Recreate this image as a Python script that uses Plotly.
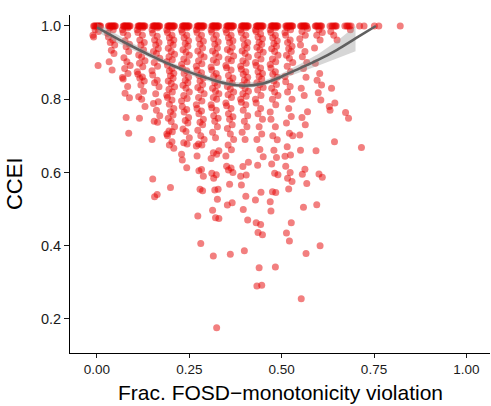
import plotly.graph_objects as go

# FOSD violation levels (columns) and CCEI values read per column
fosd_levels = [0.00, 0.04, 0.08, 0.12, 0.16, 0.20, 0.24, 0.28, 0.32, 0.36,
               0.40, 0.44, 0.48, 0.52, 0.56, 0.60, 0.64, 0.68, 0.72, 0.76, 0.83]

c00 = [1.0]*9 + [0.990, 0.985, 0.975, 0.970, 0.892]
c04 = [1.0]*9 + [0.995, 0.990, 0.980, 0.970, 0.962, 0.955, 0.948, 0.934, 0.925,
                 0.902, 0.880]
c08 = [1.0]*10 + [0.995, 0.990, 0.982, 0.975, 0.960, 0.950, 0.943, 0.930, 0.913,
                  0.902, 0.892, 0.884, 0.870, 0.859, 0.855, 0.835, 0.816, 0.804,
                  0.750, 0.707]
c12 = [1.0]*10 + [0.995, 0.990, 0.982, 0.975, 0.962, 0.955, 0.948, 0.935, 0.921,
                  0.915, 0.905, 0.898, 0.889, 0.875, 0.868, 0.861, 0.857, 0.850,
                  0.839, 0.822, 0.807, 0.800, 0.780, 0.748]
c16 = [1.0]*10 + [0.995, 0.990, 0.980, 0.972, 0.962, 0.955, 0.948, 0.938, 0.930,
                  0.925, 0.912, 0.900, 0.890, 0.878, 0.866, 0.852, 0.845, 0.834,
                  0.815, 0.793, 0.788, 0.770, 0.755, 0.740, 0.737, 0.690, 0.582,
                  0.540, 0.534]
c20 = [1.0]*10 + [0.995, 0.989, 0.982, 0.975, 0.968, 0.962, 0.955, 0.948, 0.939,
                  0.930, 0.923, 0.916, 0.908, 0.902, 0.893, 0.884, 0.877, 0.871,
                  0.864, 0.857, 0.850, 0.843, 0.834, 0.827, 0.820, 0.811, 0.805,
                  0.798, 0.786, 0.775, 0.766, 0.757, 0.748, 0.739, 0.725, 0.713,
                  0.711, 0.705, 0.700, 0.684, 0.675, 0.666, 0.559]
c24 = [1.0]*10 + [0.995, 0.990, 0.983, 0.975, 0.968, 0.960, 0.952, 0.945, 0.935,
                  0.928, 0.920, 0.910, 0.902, 0.895, 0.885, 0.878, 0.870, 0.860,
                  0.852, 0.845, 0.838, 0.830, 0.820, 0.810, 0.802, 0.795, 0.780,
                  0.772, 0.765, 0.750, 0.742, 0.735, 0.719, 0.712, 0.695, 0.681,
                  0.678, 0.650, 0.634, 0.613]
c28 = [1.0]*10 + [0.995, 0.990, 0.982, 0.975, 0.965, 0.958, 0.950, 0.940, 0.932,
                  0.922, 0.915, 0.905, 0.897, 0.890, 0.880, 0.872, 0.865, 0.858,
                  0.850, 0.840, 0.832, 0.825, 0.815, 0.805, 0.795, 0.785, 0.775,
                  0.768, 0.760, 0.745, 0.737, 0.730, 0.715, 0.700, 0.690, 0.678,
                  0.675, 0.672, 0.645, 0.608, 0.605, 0.590, 0.554, 0.550, 0.481,
                  0.406]
c32 = [1.0]*10 + [0.995, 0.990, 0.983, 0.975, 0.965, 0.957, 0.950, 0.940, 0.932,
                  0.925, 0.915, 0.907, 0.900, 0.888, 0.880, 0.870, 0.863, 0.858,
                  0.845, 0.838, 0.830, 0.822, 0.815, 0.805, 0.800, 0.785, 0.777,
                  0.770, 0.755, 0.748, 0.740, 0.725, 0.710, 0.695, 0.659, 0.654,
                  0.650, 0.638, 0.598, 0.594, 0.584, 0.554, 0.552, 0.527, 0.497,
                  0.476, 0.474, 0.372, 0.176]
c36 = [1.0]*10 + [0.995, 0.990, 0.982, 0.975, 0.968, 0.960, 0.955, 0.942, 0.936,
                  0.930, 0.918, 0.910, 0.905, 0.892, 0.886, 0.880, 0.865, 0.858,
                  0.850, 0.843, 0.835, 0.828, 0.820, 0.812, 0.805, 0.790, 0.782,
                  0.775, 0.760, 0.752, 0.745, 0.730, 0.720, 0.705, 0.690, 0.675,
                  0.662, 0.645, 0.617, 0.612, 0.607, 0.600, 0.568, 0.517, 0.511,
                  0.377]
c40 = [1.0]*10 + [0.995, 0.990, 0.982, 0.975, 0.965, 0.955, 0.948, 0.940, 0.932,
                  0.925, 0.915, 0.905, 0.898, 0.890, 0.882, 0.875, 0.868, 0.860,
                  0.852, 0.845, 0.838, 0.830, 0.822, 0.815, 0.808, 0.800, 0.792,
                  0.785, 0.770, 0.755, 0.740, 0.725, 0.710, 0.690, 0.628, 0.616,
                  0.593, 0.590, 0.566, 0.535, 0.499, 0.470, 0.386]
c44 = [1.0]*10 + [0.995, 0.990, 0.985, 0.978, 0.970, 0.965, 0.955, 0.950, 0.942,
                  0.935, 0.928, 0.920, 0.910, 0.900, 0.892, 0.885, 0.875, 0.870,
                  0.862, 0.855, 0.845, 0.840, 0.832, 0.825, 0.810, 0.800, 0.790,
                  0.775, 0.760, 0.745, 0.725, 0.705, 0.690, 0.663, 0.643, 0.620,
                  0.546, 0.525, 0.463, 0.458, 0.436, 0.430, 0.340, 0.292, 0.290]
c48 = [1.0]*10 + [0.995, 0.990, 0.982, 0.975, 0.968, 0.960, 0.952, 0.945, 0.938,
                  0.930, 0.920, 0.910, 0.902, 0.895, 0.885, 0.875, 0.868, 0.860,
                  0.850, 0.840, 0.830, 0.820, 0.810, 0.800, 0.785, 0.765, 0.745,
                  0.725, 0.700, 0.689, 0.661, 0.641, 0.623, 0.598, 0.594, 0.547,
                  0.545, 0.520, 0.495, 0.342]
c52 = [1.0]*9 + [0.995, 0.990, 0.982, 0.975, 0.962, 0.955, 0.945, 0.938, 0.930,
                 0.920, 0.912, 0.900, 0.890, 0.875, 0.862, 0.848, 0.835, 0.820,
                 0.800, 0.775, 0.753, 0.735, 0.707, 0.700, 0.670, 0.648, 0.644,
                 0.617, 0.600, 0.584, 0.575, 0.555, 0.463, 0.435, 0.413]
c56 = [1.0]*8 + [0.993, 0.985, 0.975, 0.965, 0.948, 0.930, 0.916, 0.900, 0.884,
                 0.860, 0.830, 0.810, 0.766, 0.750, 0.730, 0.702, 0.661, 0.609,
                 0.595, 0.570, 0.505, 0.379, 0.255]
c60 = [1.0]*7 + [0.990, 0.982, 0.975, 0.962, 0.940, 0.898, 0.870, 0.852, 0.839,
                 0.818, 0.798, 0.659, 0.596, 0.587, 0.512, 0.400]
c64 = [1.0]*6 + [0.985, 0.975, 0.962, 0.830, 0.790, 0.780, 0.770, 0.684]
c68 = [1.0]*5 + [0.990, 0.764, 0.748]
c72 = [1.0]*2 + [0.668]
c76 = [1.0]*2
c83 = [1.0]

ccei_by_level = [c00, c04, c08, c12, c16, c20, c24, c28, c32, c36, c40,
                 c44, c48, c52, c56, c60, c64, c68, c72, c76, c83]

# Smoothed (loess) curve and its confidence band
smooth_x = [0.00, 0.05, 0.10, 0.15, 0.20, 0.25, 0.30, 0.35, 0.40, 0.45,
            0.50, 0.55, 0.60, 0.65, 0.70, 0.755]
smooth_y = [0.996, 0.968, 0.942, 0.917, 0.894, 0.874, 0.857, 0.843, 0.837,
            0.843, 0.862, 0.885, 0.908, 0.935, 0.966, 1.000]
band_x = [0.00, 0.05, 0.10, 0.15, 0.20, 0.25, 0.30, 0.35, 0.40, 0.45,
          0.50, 0.55, 0.60, 0.65, 0.70]
band_lo = [0.984, 0.957, 0.933, 0.909, 0.887, 0.867, 0.850, 0.836, 0.830,
           0.836, 0.854, 0.874, 0.892, 0.911, 0.931]
band_hi = [1.008, 0.979, 0.951, 0.925, 0.901, 0.881, 0.864, 0.850, 0.844,
           0.850, 0.870, 0.896, 0.924, 0.959, 1.000]

x_ticks = [0.00, 0.25, 0.50, 0.75, 1.00]
x_ticklabels = ["0.00", "0.25", "0.50", "0.75", "1.00"]
y_ticks = [0.2, 0.4, 0.6, 0.8, 1.0]
y_ticklabels = ["0.2", "0.4", "0.6", "0.8", "1.0"]

# horizontal jitter pattern (position adjustment, like position_jitter)
JITTER = [-0.009, 0.003, -0.004, 0.008, -0.001, 0.006, -0.007, 0.001,
          0.010, -0.005, 0.004, -0.011]

xs, ys = [], []
for lvl, vals in zip(fosd_levels, ccei_by_level):
    for i, v in enumerate(vals):
        xs.append(lvl + JITTER[i % len(JITTER)])
        ys.append(v)

FONT = "Liberation Sans, Arial, Helvetica, sans-serif"
TICKCOL = "#1a1a1a"

fig = go.Figure()
fig.add_trace(go.Scatter(
    x=xs, y=ys, mode="markers",
    marker=dict(size=7, color="rgb(230,0,0)", opacity=0.5, line=dict(width=0)),
    hoverinfo="skip"))
fig.add_trace(go.Scatter(
    x=band_x + band_x[::-1], y=band_hi + band_lo[::-1],
    fill="toself", fillcolor="rgba(153,153,153,0.4)",
    line=dict(width=0), mode="lines", hoverinfo="skip"))
fig.add_trace(go.Scatter(
    x=smooth_x, y=smooth_y, mode="lines",
    line=dict(color="#606060", width=2.6, shape="spline"), hoverinfo="skip"))

fig.update_layout(
    width=491, height=406,
    margin=dict(l=70, r=1, t=15, b=53),
    plot_bgcolor="white", paper_bgcolor="white",
    showlegend=False,
    font=dict(family=FONT),
    xaxis=dict(range=[-0.073, 1.064], tickvals=x_ticks, ticktext=x_ticklabels,
               ticks="outside", ticklen=4, tickcolor=TICKCOL, tickwidth=1,
               showline=True, linecolor="black", linewidth=1,
               showgrid=False, zeroline=False,
               tickfont=dict(size=13.5, color=TICKCOL, family=FONT)),
    yaxis=dict(range=[0.107, 1.03], tickvals=y_ticks, ticktext=y_ticklabels,
               ticks="outside", ticklen=5, tickcolor=TICKCOL, tickwidth=1,
               showline=True, linecolor="black", linewidth=1,
               showgrid=False, zeroline=False,
               tickfont=dict(size=14.5, color=TICKCOL, family=FONT)),
    annotations=[
        dict(text="Frac. FOSD\u2212monotonicity violation", xref="paper", yref="paper",
             x=0.502, y=-0.1568, xanchor="center", yanchor="bottom",
             showarrow=False, font=dict(size=21, color="black", family=FONT)),
        dict(text="CCEI", xref="paper", yref="paper",
             x=-0.1333, y=0.5, xanchor="center", yanchor="middle", textangle=-90,
             showarrow=False, font=dict(size=22, color="black", family=FONT)),
    ],
)

fig.write_html("out.html")
